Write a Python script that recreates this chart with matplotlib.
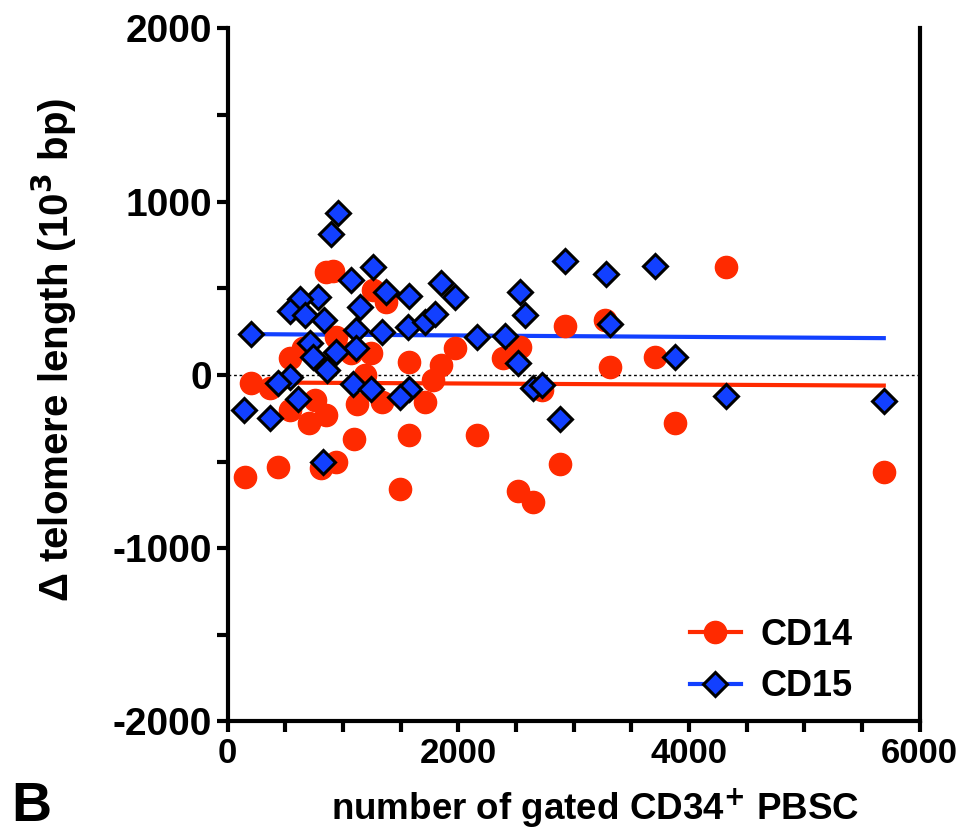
import numpy as np
import matplotlib
matplotlib.use("Agg")
from matplotlib import pyplot as plt
from matplotlib.ticker import MultipleLocator

plt.rcParams["axes.unicode_minus"] = False

# CD14 (red circles)
cd14_x = [856, 913, 1260, 1376, 943, 1969, 538, 653, 1073, 1246, 1570, 1853, 1781, 1188,
          206, 364, 755, 538, 856, 705, 1125, 1342, 1709, 1570, 1093, 943, 813, 436, 147,
          1492, 4325, 2923, 3270, 2533, 2388, 3319, 3703, 2729, 2162, 3877, 2879, 2518,
          2648, 5689]
cd14_y = [596, 602, 490, 423, 221, 154, 96, 154, 125, 125, 77, 58, -29, 0,
          -44, -77, -144, -202, -231, -279, -169, -158, -158, -346, -371, -500, -538, -533, -587,
          -660, 621, 284, 317, 163, 96, 44, 102, -87, -346, -275, -514, -673,
          -731, -561]

# CD15 (blue diamonds)
cd15_x = [957, 899, 1260, 1073, 783, 624, 538, 668, 1376, 1572, 1853, 1969, 1151, 833,
          206, 1116, 1342, 1564, 1709, 1795, 711, 1116, 943, 740, 861, 538, 436, 1087,
          1238, 1572, 1492, 610, 139, 370, 827, 2923, 3276, 3703, 2533, 2576, 3319,
          2162, 2402, 2518, 3877, 2648, 2729, 2879, 4325, 5689]
cd15_y = [936, 812, 621, 548, 452, 437, 371, 346, 481, 456, 533, 448, 391, 317,
          235, 260, 250, 279, 308, 352, 183, 154, 134, 106, 29, -10, -48, -54,
          -83, -83, -125, -140, -202, -246, -500, 658, 581, 631, 477, 346, 293,
          221, 225, 68, 106, -77, -58, -256, -119, -148]

# regression lines (intercept, slope)
cd14_fit = (-43, -0.0033)
cd15_fit = (236, -0.0042)

red = "#ff2a00"
blue = "#1240ff"
font = "Liberation Sans"

fig = plt.figure(figsize=(9.65, 8.34), dpi=100)
ax = fig.add_axes([0.236, 0.135, 0.717, 0.831])

ax.axhline(0, color="black", lw=1.0, ls=(0, (2, 2)), zorder=1)

for xs, ys, fit, col in [(cd14_x, cd14_y, cd14_fit, red), (cd15_x, cd15_y, cd15_fit, blue)]:
    xx = np.array([min(xs), max(xs)])
    ax.plot(xx, fit[0] + fit[1] * xx, color=col, lw=3, zorder=2)

ax.plot(cd14_x, cd14_y, "o", color=red, ms=16, mec=red, zorder=3)
ax.plot(cd15_x, cd15_y, "D", color=blue, ms=12, mec="black", mew=2.2, zorder=4)

# legend handles
h14, = ax.plot([], [], "-o", color=red, ms=16, lw=3)
h15, = ax.plot([], [], "-D", color=blue, ms=12, mec="black", mew=2.2, lw=3)
ax.legend([h14, h15], ["CD14", "CD15"], loc="lower right", frameon=False,
          prop={"family": font, "weight": "bold", "size": 26},
          handlelength=1.4, handletextpad=0.55, labelspacing=0.45,
          bbox_to_anchor=(0.95, -0.022))

ax.set_xlim(0, 6000)
ax.set_ylim(-2000, 2000)
ax.xaxis.set_major_locator(MultipleLocator(2000))
ax.xaxis.set_minor_locator(MultipleLocator(500))
ax.yaxis.set_major_locator(MultipleLocator(1000))
ax.yaxis.set_minor_locator(MultipleLocator(500))

for s in ["left", "bottom", "right"]:
    ax.spines[s].set_linewidth(3)
ax.spines["top"].set_visible(False)
ax.tick_params(which="both", direction="out", width=3, length=8, right=False)

for lab in ax.get_yticklabels():
    lab.set_family(font)
    lab.set_weight("bold")
    lab.set_size(28)
for lab in ax.get_xticklabels():
    lab.set_family(font)
    lab.set_weight("bold")
    lab.set_size(25)

ax.set_xlabel("number of gated CD34$^{\\mathbf{+}}$ PBSC",
              family=font, weight="bold", size=26.5)
ax.xaxis.set_label_coords(0.531, -0.094)
ax.set_ylabel("Δ telomere length (10$^{\\mathbf{3}}$ bp)",
              family=font, weight="bold", size=29)
ax.yaxis.set_label_coords(-0.215, 0.536)

fig.text(0.012, 0.001, "B", family=font, weight="bold", size=40, va="bottom")

plt.savefig("out.png", dpi=100)
